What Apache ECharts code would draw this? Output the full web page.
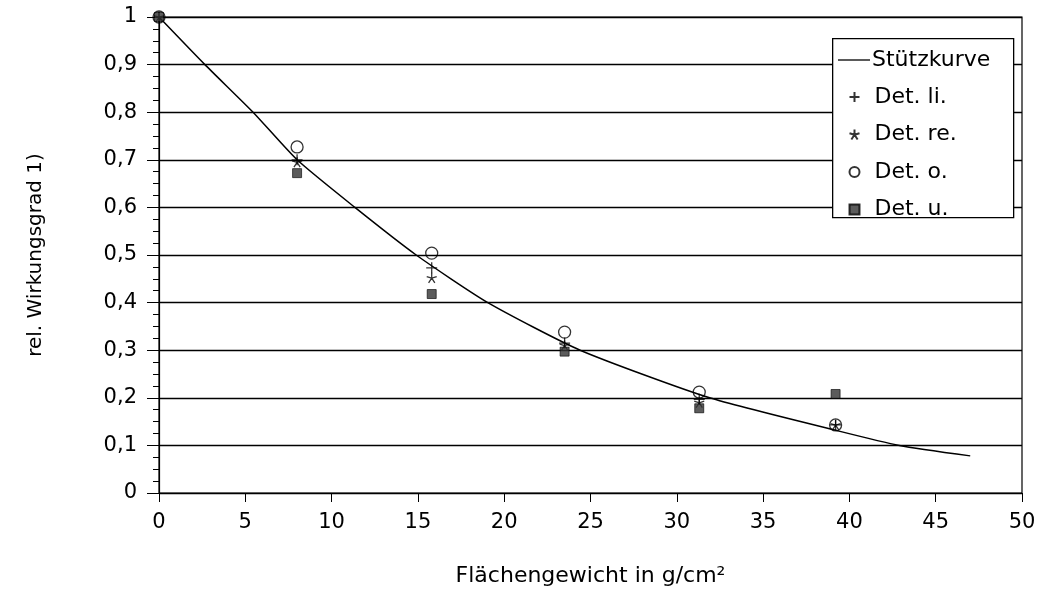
<!DOCTYPE html>
<html><head><meta charset="utf-8">
<script src="https://cdn.jsdelivr.net/npm/echarts@6/dist/echarts.min.js"></script>
<style>html,body{margin:0;padding:0;background:#fff}#c{width:1044px;height:593px}</style>
</head><body><div id="c"></div>
<script>
// Stützkurve
const curveX = [0, 2.66, 5.45, 8, 11.35, 14.9, 19.05, 24.4, 31.9, 39.4, 42.9, 47];
const curveY = [1, 0.9, 0.8, 0.70, 0.6, 0.5, 0.4, 0.3, 0.2, 0.13, 0.1, 0.078];
// Detector measurements
const detX = [0, 8, 15.8, 23.5, 31.3, 39.2];
const detLi = [1, 0.70, 0.473, 0.315, 0.197, 0.143];
const detRe = [1, 0.695, 0.452, 0.31, 0.19, 0.143];
const detO  = [1, 0.727, 0.504, 0.338, 0.212, 0.143];
const detU  = [1, 0.672, 0.418, 0.297, 0.178, 0.208];
const names = ['Stützkurve', 'Det. li.', 'Det. re.', 'Det. o.', 'Det. u.'];
const xTicks = [0, 5, 10, 15, 20, 25, 30, 35, 40, 45, 50];

const zip = (xs, ys) => xs.map((x, i) => [x, ys[i]]);
const font = '"DejaVu Sans", sans-serif';
const plusPath = 'path://M5,0L5,10M0,5L10,5';
const starPath = 'path://M5,0L5,5M5,5L0.2,3.5M5,5L9.8,3.5M5,5L2,9.5M5,5L8,9.5';
const legendText = { fontSize: 22, color: '#000', fontFamily: font, lineHeight: 24 };

const chart = echarts.init(document.getElementById('c'));
chart.setOption({
  animation: false,
  textStyle: { fontFamily: font },
  grid: { left: 159, right: 22, top: 17, bottom: 100, show: true, borderColor: '#000', borderWidth: 1.2 },
  graphic: [{
    type: 'rect', left: 832, top: 38, z: 50,
    shape: { width: 181, height: 179 },
    style: { fill: '#fff', stroke: '#000', lineWidth: 1.3 }
  }],
  legend: [{
    orient: 'vertical', left: 838, top: 48, z: 60, padding: 0,
    itemWidth: 32, itemHeight: 12, itemGap: 14,
    textStyle: Object.assign({ padding: [0, 0, 0, -3] }, legendText),
    data: [{ name: names[0], icon: 'path://M0,5L32,5L32,6.3L0,6.3Z' }]
  }, {
    orient: 'vertical', left: 847, top: 85, z: 60, padding: 0,
    itemWidth: 10, itemHeight: 10, itemGap: 13.5,
    textStyle: Object.assign({ padding: [0, 0, 0, 10] }, legendText),
    data: [names[1], names[2], names[3], names[4]]
  }],
  xAxis: {
    type: 'value', min: 0, max: 50, interval: 5,
    name: 'Flächengewicht in g/cm²', nameLocation: 'middle', nameGap: 72,
    nameTextStyle: { fontSize: 22, color: '#000' },
    axisLine: { lineStyle: { color: '#000', width: 1.2 } },
    axisTick: { show: true, length: 9, lineStyle: { color: '#000' } },
    axisLabel: { fontSize: 21, color: '#000', margin: 19,
      formatter: v => xTicks.includes(v) ? String(v) : '' },
    splitLine: { show: false }
  },
  yAxis: {
    type: 'value', min: 0, max: 1, interval: 0.1,
    name: 'rel. Wirkungsgrad 1)', nameLocation: 'middle', nameGap: 113, nameRotate: 90,
    nameTextStyle: { fontSize: 20, color: '#000' },
    axisLine: { show: true, lineStyle: { color: '#000', width: 1.2 } },
    axisTick: { show: true, length: 12, lineStyle: { color: '#000' } },
    minorTick: { show: true, splitNumber: 4, length: 6, lineStyle: { color: '#000' } },
    axisLabel: { fontSize: 21, color: '#000', margin: 22,
      formatter: v => String(Math.round(v * 10) / 10).replace('.', ',') },
    splitLine: { show: true, lineStyle: { color: '#000', width: 1.3 } }
  },
  series: [
    { name: names[0], type: 'line', data: zip(curveX, curveY), showSymbol: false, symbol: 'none',
      smooth: 0.2, lineStyle: { color: '#000', width: 1.5 }, itemStyle: { color: '#000' }, z: 3 },
    { name: names[1], type: 'scatter', data: zip(detX, detLi), symbol: plusPath, symbolSize: 11,
      clip: false, itemStyle: { color: 'none', borderColor: '#000', borderWidth: 1.3 }, z: 5 },
    { name: names[2], type: 'scatter', data: zip(detX, detRe), symbol: starPath, symbolSize: 10,
      clip: false, itemStyle: { color: 'none', borderColor: '#000', borderWidth: 1.3 }, z: 5 },
    { name: names[3], type: 'scatter', data: zip(detX, detO), symbol: 'circle', symbolSize: 12,
      clip: false, itemStyle: { color: 'rgba(0,0,0,0)', borderColor: '#000', borderWidth: 1.3 }, z: 4 },
    { name: names[4], type: 'scatter', data: zip(detX, detU), symbol: 'rect', symbolSize: 9,
      clip: false, itemStyle: { color: '#333', borderColor: '#000', borderWidth: 0.8 }, z: 6 }
  ]
});
</script></body></html>
